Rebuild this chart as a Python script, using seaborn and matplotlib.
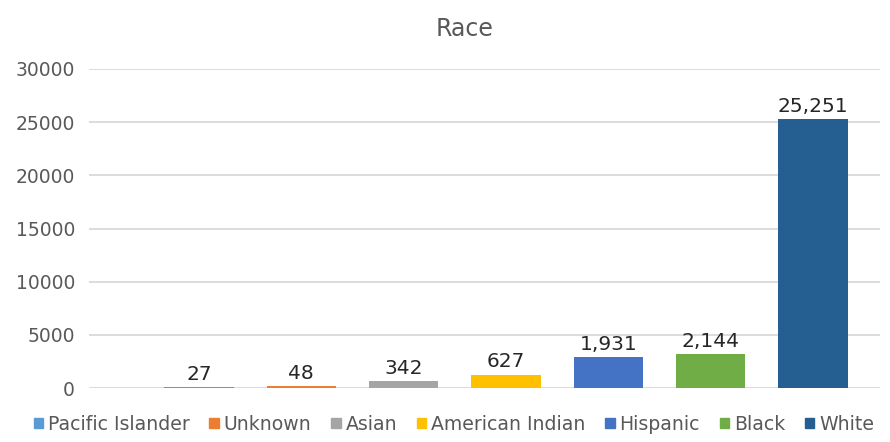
import matplotlib
matplotlib.use("Agg")
import matplotlib.pyplot as plt
import matplotlib.patches as mpatches
import seaborn as sns

# data
races = ["Pacific Islander", "Unknown", "Asian", "American Indian", "Hispanic", "Black", "White"]
bar_heights = [110, 150, 620, 1270, 2930, 3190, 25251]
bar_labels = ["27", "48", "342", "627", "1,931", "2,144", "25,251"]
colors = ["#5B9BD5", "#ED7D31", "#A5A5A5", "#FFC000", "#4472C4", "#70AD47", "#255E91"]
yticks = [0, 5000, 10000, 15000, 20000, 25000, 30000]

sns.set_style("white")
plt.rcParams["font.family"] = ["DejaVu Sans"]

fig = plt.figure(figsize=(8.9, 4.42), dpi=100)
ax = fig.add_axes([0.1, 0.122, 0.889, 0.722])
ax.set_axisbelow(True)

sns.barplot(x=races, y=bar_heights, hue=races, palette=colors, width=0.675,
            legend=False, ax=ax, saturation=1, linewidth=0, zorder=3)

# value labels
for i, (h, lab) in enumerate(zip(bar_heights, bar_labels)):
    ax.text(i, h + 320, lab, ha="center", va="bottom", fontsize=14.5, color="#262626", zorder=4)

ax.set_xlim(-1.075, 6.657)
ax.set_ylim(0, 30000)
ax.set_yticks(yticks)
ax.set_yticklabels([str(t) for t in yticks], fontsize=13.5, color="#595959")
ax.set_xticks([])
ax.grid(axis="y", color="#d9d9d9", linewidth=1.3, zorder=0)
for s in ax.spines.values():
    s.set_visible(False)
ax.tick_params(axis="y", length=0, pad=10)

fig.text(0.522, 0.935, "Race", ha="center", va="center", fontsize=17, color="#595959")

handles = [mpatches.Patch(color=c, label=r) for r, c in zip(races, colors)]
fig.legend(handles=handles, loc="center", bbox_to_anchor=(0.51, 0.04), ncol=7,
           frameon=False, fontsize=13.6, handlelength=0.5, handleheight=0.5,
           handletextpad=0.25, columnspacing=1.05, labelcolor="#595959")

fig.savefig("out.png", dpi=100)
